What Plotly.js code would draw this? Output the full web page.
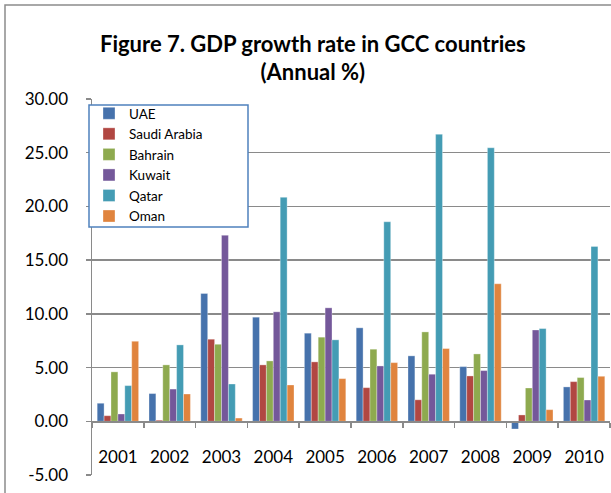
<!DOCTYPE html>
<html>
<head>
<meta charset="utf-8">
<script src="https://cdn.plot.ly/plotly-3.0.1.min.js"></script>
<style>
  html, body { margin: 0; padding: 0; background: #fff; }
  #chart { width: 611px; height: 493px; }
</style>
</head>
<body>
<div id="chart"></div>
<script>
// ---- Data ----
var years = ['2001', '2002', '2003', '2004', '2005', '2006', '2007', '2008', '2009', '2010'];
var seriesNames = ['UAE', 'Saudi Arabia', 'Bahrain', 'Kuwait', 'Qatar', 'Oman'];
var uae     = [1.68, 2.58, 11.90,  9.69,  8.20,  8.70,  6.09,  5.09, -0.72,  3.20];
var saudi   = [0.52, 0.10,  7.64,  5.25,  5.53,  3.13,  2.00,  4.22,  0.59,  3.69];
var bahrain = [4.60, 5.25,  7.17,  5.62,  7.83,  6.71,  8.32,  6.27,  3.10,  4.07];
var kuwait  = [0.68, 3.00, 17.32, 10.19, 10.56,  5.15,  4.38,  4.72,  8.50,  1.98];
var qatar   = [3.32, 7.11,  3.47, 20.85,  7.58, 18.57, 26.72, 25.46,  8.63, 16.28];
var oman    = [7.45, 2.54,  0.30,  3.38,  3.97,  5.46,  6.77, 12.80,  1.08,  4.19];
var yTickVals = [-5, 0, 5, 10, 15, 20, 25, 30];
var yTickText = ['-5.00', '0.00', '5.00', '10.00', '15.00', '20.00', '25.00', '30.00'];

var seriesValues = [uae, saudi, bahrain, kuwait, qatar, oman];
var colors = ['#4672ac', '#b14742', '#8eaa4f', '#74589a', '#449cb4', '#e0843e'];

var traces = seriesNames.map(function (name, i) {
  return {
    type: 'bar',
    name: name,
    x: years,
    y: seriesValues[i],
    marker: { color: colors[i], line: { color: 'rgba(255,255,255,0.55)', width: 0.6 } },
    hoverinfo: 'x+y+name'
  };
});

// plot area in pixels: left 92, right 610, top 99, bottom 475
var L = 92, R = 610, T = 99, B = 475;
var W = R - L, H = B - T;
function px(xp) { return (xp - L) / W; }
function py(yp) { return (B - yp) / H; }

var font = 'Lato, "Open Sans", "DejaVu Sans", sans-serif';

var layout = {
  width: 611,
  height: 493,
  margin: { l: L, r: 611 - R, t: T, b: 493 - B, pad: 0 },
  paper_bgcolor: '#ffffff',
  plot_bgcolor: '#ffffff',
  font: { family: font, color: '#000000', size: 17 },
  title: {
    text: '<b>Figure 7. GDP growth rate in GCC countries<br>(Annual %)</b>',
    font: { family: font, size: 22, color: '#000000' },
    x: 0.512, xref: 'container', xanchor: 'center',
    y: 0.895, yref: 'container', yanchor: 'top'
  },
  barmode: 'group',
  bargap: 0.2,
  bargroupgap: 0,
  showlegend: true,
  legend: {
    x: px(89), y: py(98), xanchor: 'left', yanchor: 'top',
    xref: 'paper', yref: 'paper',
    bgcolor: 'rgba(0,0,0,0)',
    borderwidth: 0,
    tracegroupgap: 0,
    font: { family: font, size: 13.5, color: '#000000' }
  },
  xaxis: {
    type: 'category',
    anchor: 'free',
    position: 5 / 35,
    showline: true,
    linecolor: '#8a8a8a',
    linewidth: 1.5,
    ticks: 'outside',
    tickson: 'boundaries',
    ticklen: 5,
    tickwidth: 1.5,
    tickcolor: '#8a8a8a',
    showgrid: false,
    zeroline: false,
    ticklabelstandoff: 20,
    tickfont: { family: font, size: 17, color: '#000000' },
    fixedrange: true
  },
  yaxis: {
    range: [-5, 30],
    tickmode: 'array',
    tickvals: yTickVals,
    ticktext: yTickText,
    showline: true,
    linecolor: '#8a8a8a',
    linewidth: 1.5,
    ticks: 'outside',
    ticklen: 5,
    tickwidth: 1.5,
    tickcolor: '#8a8a8a',
    showgrid: true,
    gridcolor: '#8a8a8a',
    gridwidth: 1.3,
    zeroline: false,
    ticklabelstandoff: 14,
    tickfont: { family: font, size: 17, color: '#000000' },
    fixedrange: true
  },
  shapes: [
    // outer chart border
    {
      type: 'rect', xref: 'paper', yref: 'paper', layer: 'below',
      x0: px(5), x1: px(640), y0: py(520), y1: py(5),
      line: { color: '#8c8c8c', width: 1.5 }, fillcolor: 'rgba(0,0,0,0)'
    },
    // legend box
    {
      type: 'rect', xref: 'paper', yref: 'paper', layer: 'above',
      x0: px(89), x1: px(248), y0: py(227), y1: py(105),
      line: { color: '#4f81bd', width: 1.5 }, fillcolor: '#ffffff'
    }
  ]
};

Plotly.newPlot('chart', traces, layout, { displayModeBar: false, staticPlot: true });
</script>
</body>
</html>
